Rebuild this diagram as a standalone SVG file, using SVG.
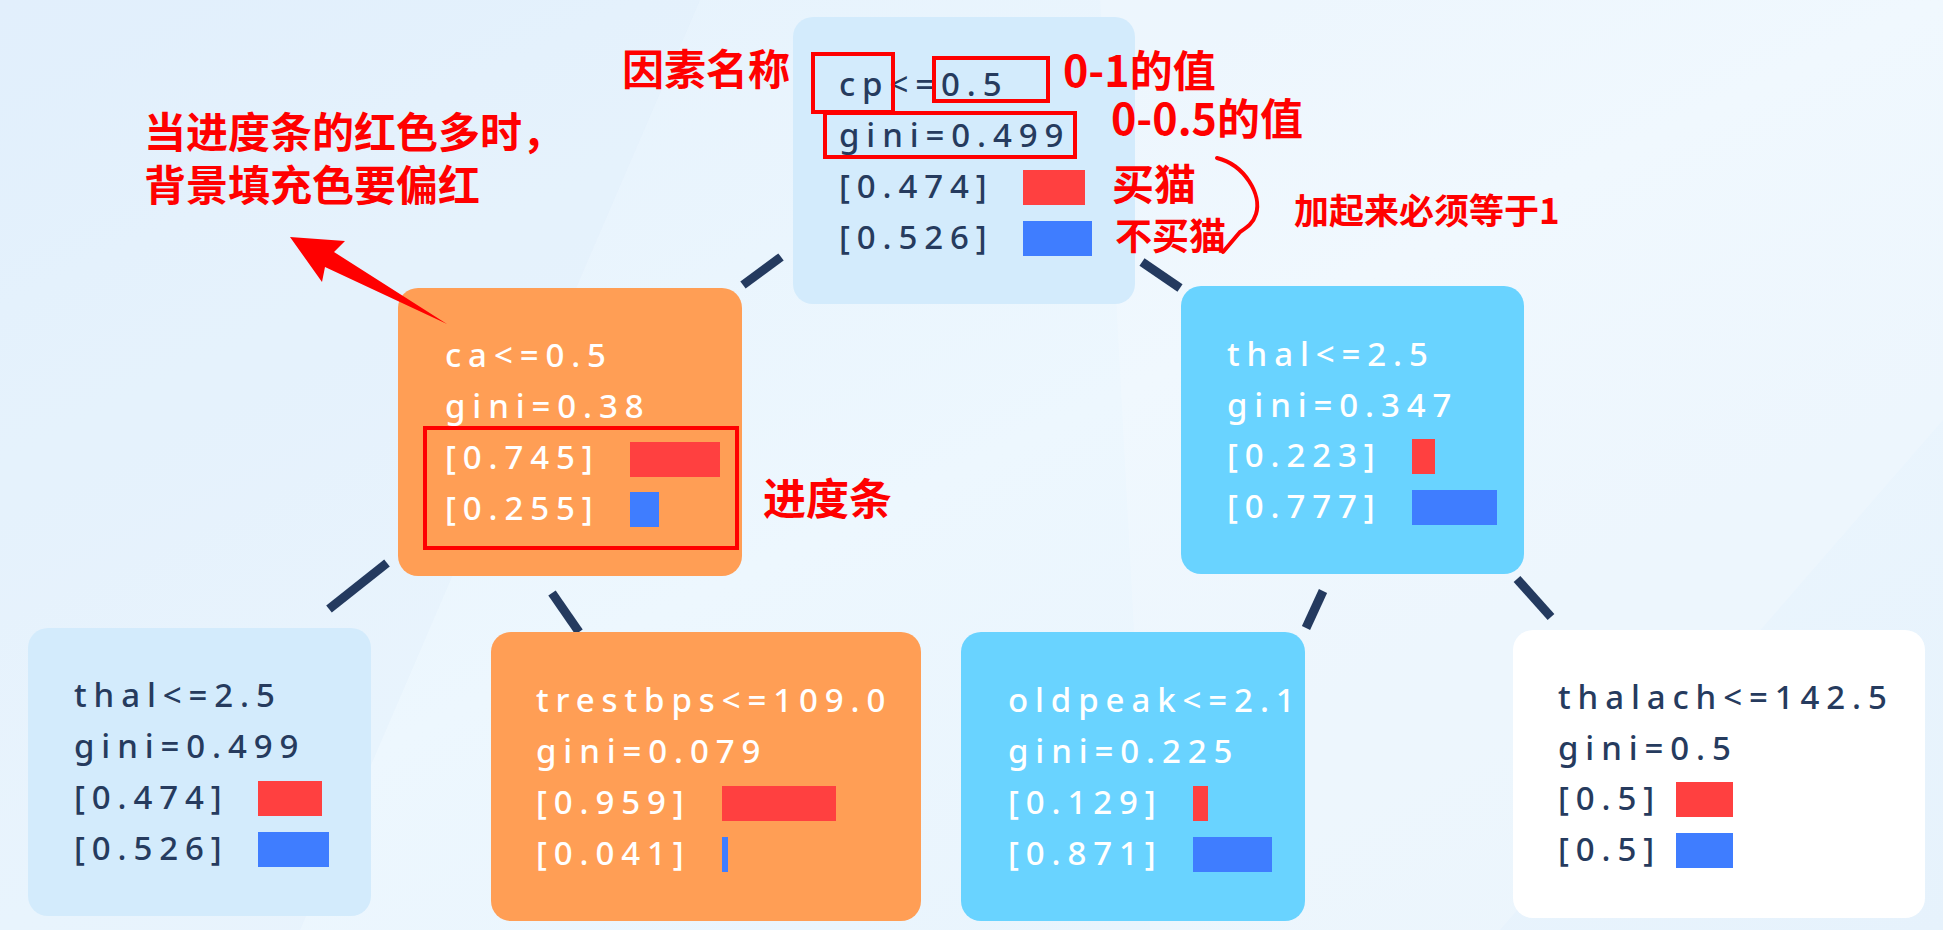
<svg xmlns="http://www.w3.org/2000/svg" width="1943" height="930" viewBox="0 0 1943 930">
<defs>
<linearGradient id="bg" x1="0" y1="0" x2="1" y2="1">
<stop offset="0" stop-color="#e4f1fc"/>
<stop offset="0.5" stop-color="#edf7fe"/>
<stop offset="1" stop-color="#e6f2fc"/>
</linearGradient>
<style>
.lbl{font-family:"Noto Sans","Open Sans","DejaVu Sans",sans-serif;font-size:33px;font-weight:500;letter-spacing:6.9px}
.dk{fill:#263b5e}
.wh{fill:#ffffff}
.lt{fill:#d3ebfc}
.or{fill:#ff9e55}
.bl{fill:#69d3ff}
.wt{fill:#ffffff}
.br{fill:#ff4040}
.bb{fill:#3f7dff}
.ann{font-family:"Noto Sans CJK SC","Noto Sans",sans-serif;font-weight:bold;fill:#ff0000}
.box{fill:none;stroke:#ff0000;stroke-width:4}
.conn{stroke:#243a5f;stroke-width:9;stroke-linecap:butt}
</style>
</defs>
<rect x="0" y="0" width="1943" height="930" fill="url(#bg)"/>
<polygon points="1100,0 1943,0 1943,420 1500,930 1150,930" fill="#ffffff" opacity="0.18"/>
<polygon points="0,0 700,0 300,930 0,930" fill="#dcedfb" opacity="0.25"/>

<g id="connectors">
<line class="conn" x1="781" y1="257" x2="743" y2="285"/>
<line class="conn" x1="1142" y1="262" x2="1180" y2="288"/>
<line class="conn" x1="387" y1="563" x2="329" y2="609"/>
<line class="conn" x1="552" y1="593" x2="579" y2="632"/>
<line class="conn" x1="1323" y1="591" x2="1306" y2="628"/>
<line class="conn" x1="1517" y1="579" x2="1551" y2="617"/>
</g>

<g id="node-root">
<rect class="lt" x="793" y="17" width="342" height="287" rx="20"/>
<text class="lbl dk" x="839" y="96">cp&lt;=0.5</text>
<text class="lbl dk" x="839" y="147">gini=0.499</text>
<text class="lbl dk" x="839" y="198">[0.474]</text>
<text class="lbl dk" x="839" y="249">[0.526]</text>
<rect class="br" x="1023" y="170" width="62" height="35"/>
<rect class="bb" x="1023" y="221" width="69" height="35"/>
</g>

<g id="node-ca">
<rect class="or" x="398" y="288" width="344" height="288" rx="20"/>
<text class="lbl wh" x="445" y="367">ca&lt;=0.5</text>
<text class="lbl wh" x="445" y="418">gini=0.38</text>
<text class="lbl wh" x="445" y="469">[0.745]</text>
<text class="lbl wh" x="445" y="520">[0.255]</text>
<rect class="br" x="630" y="442" width="90" height="35"/>
<rect class="bb" x="630" y="492" width="29" height="35"/>
</g>

<g id="node-thal-r">
<rect class="bl" x="1181" y="286" width="343" height="288" rx="20"/>
<text class="lbl wh" x="1227" y="366">thal&lt;=2.5</text>
<text class="lbl wh" x="1227" y="417">gini=0.347</text>
<text class="lbl wh" x="1227" y="467">[0.223]</text>
<text class="lbl wh" x="1227" y="518">[0.777]</text>
<rect class="br" x="1412" y="439" width="23" height="35"/>
<rect class="bb" x="1412" y="490" width="85" height="35"/>
</g>

<g id="node-thal-l">
<rect class="lt" x="28" y="628" width="343" height="288" rx="20"/>
<text class="lbl dk" x="74" y="707">thal&lt;=2.5</text>
<text class="lbl dk" x="74" y="758">gini=0.499</text>
<text class="lbl dk" x="74" y="809">[0.474]</text>
<text class="lbl dk" x="74" y="860">[0.526]</text>
<rect class="br" x="258" y="781" width="64" height="35"/>
<rect class="bb" x="258" y="832" width="71" height="35"/>
</g>

<g id="node-trestbps">
<rect class="or" x="491" y="632" width="430" height="289" rx="20"/>
<text class="lbl wh" x="536" y="712">trestbps&lt;=109.0</text>
<text class="lbl wh" x="536" y="763">gini=0.079</text>
<text class="lbl wh" x="536" y="814">[0.959]</text>
<text class="lbl wh" x="536" y="865">[0.041]</text>
<rect class="br" x="722" y="786" width="114" height="35"/>
<rect class="bb" x="722" y="837" width="6" height="35"/>
</g>

<g id="node-oldpeak">
<rect class="bl" x="961" y="632" width="344" height="289" rx="20"/>
<text class="lbl wh" x="1008" y="712">oldpeak&lt;=2.1</text>
<text class="lbl wh" x="1008" y="763">gini=0.225</text>
<text class="lbl wh" x="1008" y="814">[0.129]</text>
<text class="lbl wh" x="1008" y="865">[0.871]</text>
<rect class="br" x="1193" y="786" width="15" height="35"/>
<rect class="bb" x="1193" y="837" width="79" height="35"/>
</g>

<g id="node-thalach">
<rect class="wt" x="1513" y="630" width="412" height="288" rx="20"/>
<text class="lbl dk" x="1558" y="709">thalach&lt;=142.5</text>
<text class="lbl dk" x="1558" y="760">gini=0.5</text>
<text class="lbl dk" x="1558" y="810">[0.5]</text>
<text class="lbl dk" x="1558" y="861">[0.5]</text>
<rect class="br" x="1676" y="782" width="57" height="35"/>
<rect class="bb" x="1676" y="833" width="57" height="35"/>
</g>

<g id="annotations">
<rect class="box" x="813" y="54" width="80" height="58"/>
<rect class="box" x="934" y="58" width="114" height="43"/>
<rect class="box" x="825" y="113" width="250" height="44"/>
<rect class="box" x="425" y="428" width="312" height="120"/>
<text class="ann" x="622" y="85" font-size="42">因素名称</text>
<text class="ann" x="1063" y="87" font-size="43">0-1的值</text>
<text class="ann" x="1111" y="135" font-size="43">0-0.5的值</text>
<text class="ann" x="1112" y="200" font-size="42">买猫</text>
<text class="ann" x="1115" y="250" font-size="37">不买猫</text>
<text class="ann" x="1294" y="224" font-size="35">加起来必须等于1</text>
<text class="ann" x="144" y="148" font-size="42">当进度条的红色多时，</text>
<text class="ann" x="144" y="201" font-size="42">背景填充色要偏红</text>
<text class="ann" x="763" y="515" font-size="43">进度条</text>
<path d="M1217,158 C1245,165 1262,195 1256,214 C1253,224 1246,228 1240,232 L1223,252" fill="none" stroke="#ff0000" stroke-width="4" stroke-linecap="round"/>
<polygon points="290,237 345,241 334,252 447,324 325,267 322,282" fill="#ff0000"/>
</g>
</svg>
